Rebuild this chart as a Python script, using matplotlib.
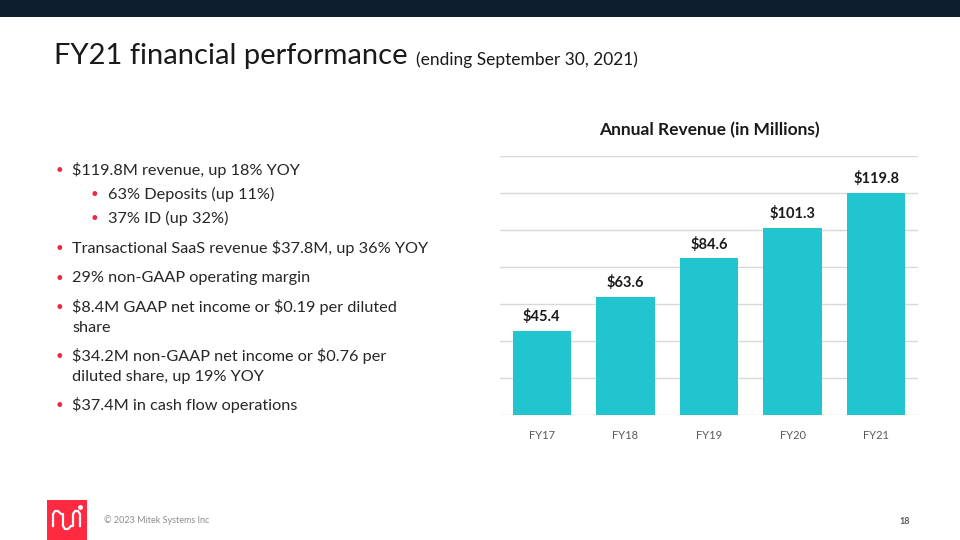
import matplotlib.pyplot as plt
from matplotlib.patches import Rectangle
from matplotlib.lines import Line2D

plt.rcParams['font.family'] = ['Lato', 'DejaVu Sans']
plt.rcParams['text.parse_math'] = False

# data
years = ['FY17', 'FY18', 'FY19', 'FY20', 'FY21']
revenue = [45.4, 63.6, 84.6, 101.3, 119.8]

bullets = [
    (0, '$119.8M revenue, up 18% YOY'),
    (1, '63% Deposits (up 11%)'),
    (1, '37% ID (up 32%)'),
    (0, 'Transactional SaaS revenue $37.8M, up 36% YOY'),
    (0, '29% non-GAAP operating margin'),
    (0, '$8.4M GAAP net income or $0.19 per diluted\nshare'),
    (0, '$34.2M non-GAAP net income or $0.76 per\ndiluted share, up 19% YOY'),
    (0, '$37.4M in cash flow operations'),
]
bullet_y = [170, 194, 218, 248, 278, 317, 366, 405]

W, H = 960, 540
navy = '#0f1e2e'
red = '#ec2a3e'
teal = '#21c5d0'


def px(x, y):
    return x / W, 1 - y / H


fig = plt.figure(figsize=(9.6, 5.4), dpi=100)
fig.patch.set_facecolor('white')

# header band
fig.add_artist(Rectangle((0, 1 - 17 / H), 1, 17 / H, transform=fig.transFigure,
                         color=navy, lw=0))

# title
t = fig.text(*px(54, 56), 'FY21 financial performance', fontsize=21,
             color='#1a1a1a', va='center', ha='left')
fig.canvas.draw()
bb = t.get_window_extent()
fig.text(bb.x1 / W + 8 / W, 1 - 60 / H, '(ending September 30, 2021)', fontsize=12.5,
         color='#1a1a1a', va='center', ha='left')

# bullets
for (lvl, txt), y in zip(bullets, bullet_y):
    bx = 56 if lvl == 0 else 91
    tx = 72 if lvl == 0 else 108
    nlines = txt.count('\n') + 1
    top = y - (nlines - 1) * 10
    fig.text(*px(bx, top), '•', color=red, fontsize=9.5, va='center', ha='left')
    fig.text(*px(tx, y), txt, fontsize=11.7, color='#262626', va='center', ha='left',
             linespacing=1.47)

# chart
ax = fig.add_axes([500 / W, 125 / H, 418 / W, 259 / H])
x = range(len(years))
ax.bar(x, revenue, width=0.7, color=teal, zorder=3)
for i, v in zip(x, revenue):
    ax.annotate(f'${v:.1f}', (i, v), xytext=(0, 5), textcoords='offset points',
                ha='center', va='bottom', fontsize=10.5, fontweight='bold',
                color='#1a1a1a')
ax.set_xlim(-0.5, 4.5)
ax.set_ylim(0, 140)
ax.set_yticks(range(0, 141, 20))
ax.yaxis.grid(True, color='#d9d9d9', lw=1.0, zorder=0)
ax.set_yticklabels([])
ax.tick_params(axis='y', length=0)
ax.set_xticks(list(x))
ax.set_xticklabels(years, fontsize=8, color='#595959')
ax.tick_params(axis='x', length=0, pad=11)
for s in ax.spines.values():
    s.set_visible(False)
ax.set_title('Annual Revenue (in Millions)', fontsize=12.5, fontweight='bold',
             color='#1a1a1a', pad=15)

# footer
fig.add_artist(Rectangle(px(47, 540), 40 / W, 40 / H, transform=fig.transFigure,
                         color='#ff2a40', lw=0))
lx = [53, 53, 55, 58, 61, 63, 63, 65, 68, 71, 73, 73, 75, 78, 80, 80]
ly = [526, 514, 511, 511, 514, 514, 526, 529, 529, 526, 526, 514, 511, 511, 514, 526]
fig.add_artist(Line2D([a / W for a in lx], [1 - b / H for b in ly],
                      transform=fig.transFigure, color='white', lw=1.6))
fig.add_artist(Line2D([80 / W], [1 - 507 / H], transform=fig.transFigure,
                      marker='o', ms=2.5, color='white', lw=0))
fig.text(*px(104, 520), '\u00a9 2023 Mitek Systems Inc', fontsize=6.5, color='#8c8c8c',
         va='center', ha='left')
fig.text(*px(910, 521), '18', fontsize=6.5, color='#595959', fontweight='bold',
         va='center', ha='right')

fig.savefig('out.png', dpi=100)
